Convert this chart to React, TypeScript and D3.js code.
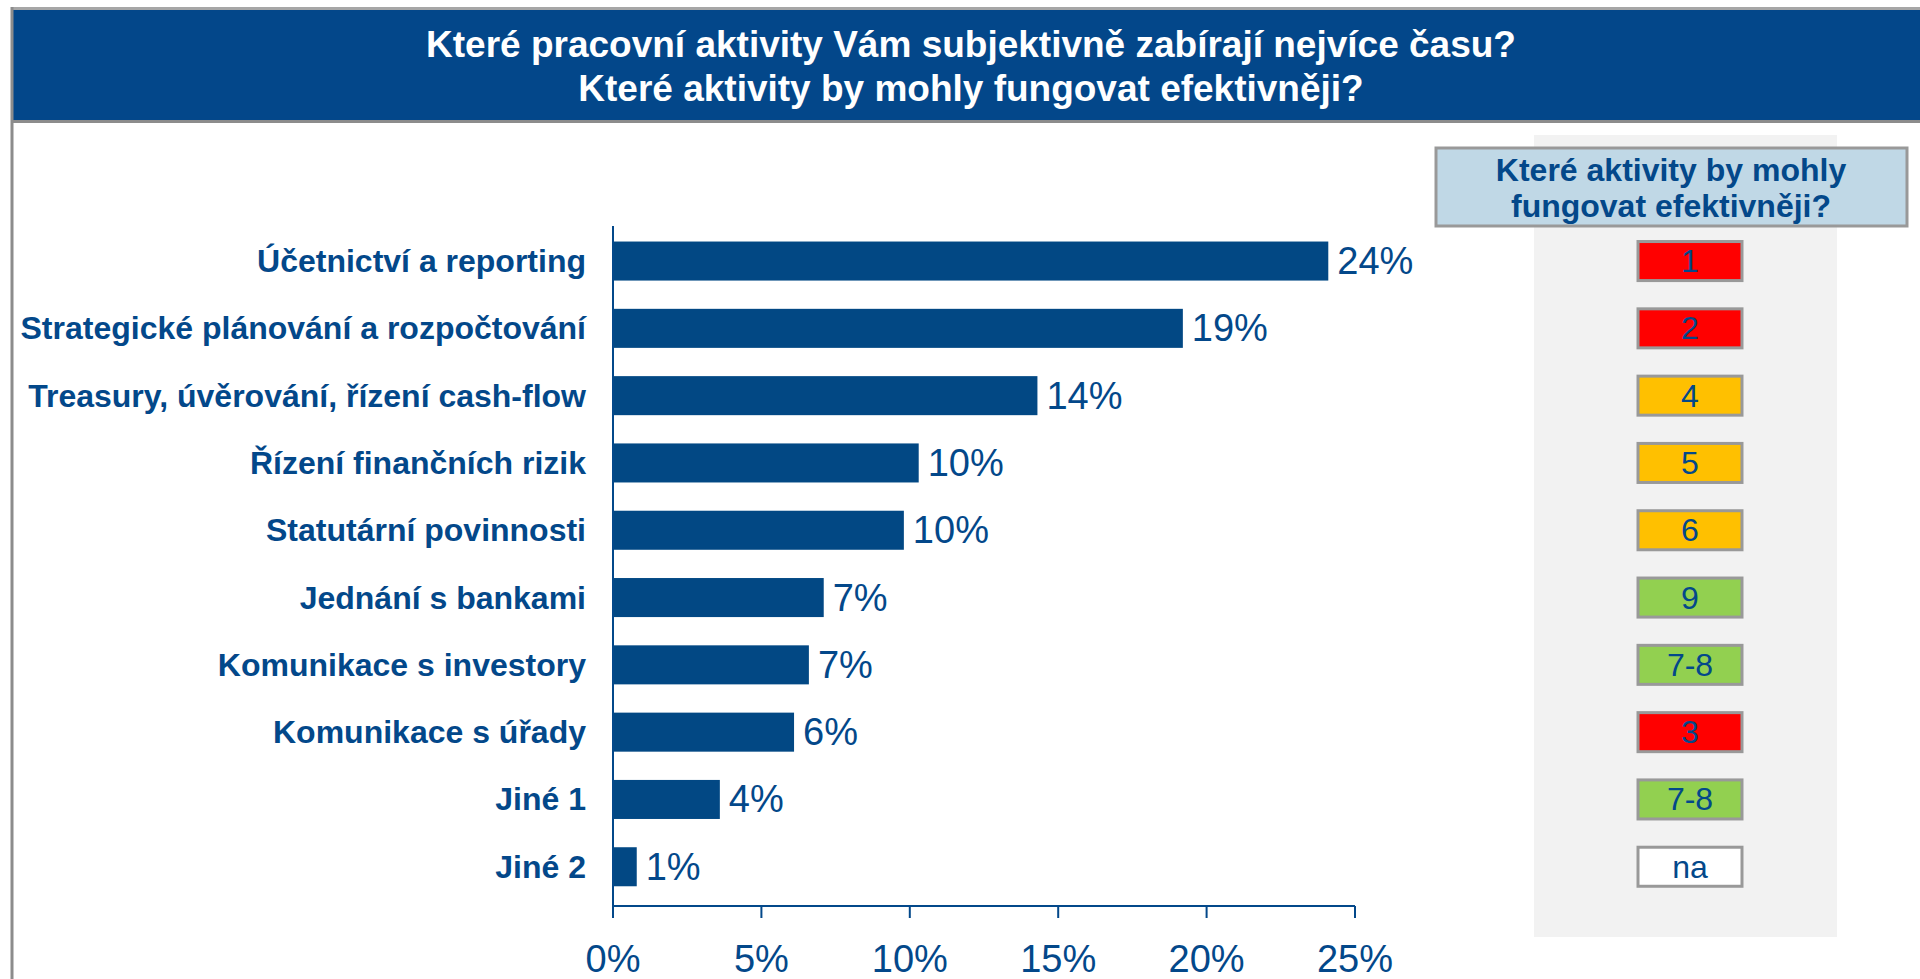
import React from 'react';
import * as d3 from "d3";

const categories = [
    "Účetnictví a reporting",
    "Strategické plánování a rozpočtování",
    "Treasury, úvěrování, řízení cash-flow",
    "Řízení finančních rizik",
    "Statutární povinnosti",
    "Jednání s bankami",
    "Komunikace s investory",
    "Komunikace s úřady",
    "Jiné 1",
    "Jiné 2"
];
const shares = [24.1, 19.2, 14.3, 10.3, 9.8, 7.1, 6.6, 6.1, 3.6, 0.8];
const ranks = ["1", "2", "4", "5", "6", "9", "7-8", "3", "7-8", "na"];
const rankLevels = ["high", "high", "mid", "mid", "mid", "low", "low", "high", "low", "none"];
const xTicks = [0, 5, 10, 15, 20, 25];
const titleLines = [
    "Které pracovní aktivity Vám subjektivně zabírají nejvíce času?",
    "Které aktivity by mohly fungovat efektivněji?"
];
const panelTitleLines = ["Které aktivity by mohly", "fungovat efektivněji?"];

export default function App() {
    const width = 1920;
    const height = 979;
    const blue = "#03488a";
    const font = "'Liberation Sans', Arial, sans-serif";
    const levelColor = {high: "#ff0000", mid: "#ffc000", low: "#92d050", none: "#ffffff"};

    const svgRef = React.useRef(null);

    React.useEffect(() => {
        let svg = d3.select(svgRef.current);
        svg.selectAll("*").remove();

        const x = d3.scaleLinear().domain([0, 25]).range([613, 1355]);
        const y = d3.scaleBand()
            .domain(categories)
            .range([227.4, 900.4])
            .paddingInner(0.42)
            .paddingOuter(0.21);

        //Header band.
        svg.append("rect").attr("x", 12).attr("y", 7).attr("width", width - 12).attr("height", 4).attr("fill", "#a6a6a6");
        svg.append("rect").attr("x", 12).attr("y", 10).attr("width", width - 12).attr("height", 111).attr("fill", "#03478a");
        svg.append("rect").attr("x", 12).attr("y", 120).attr("width", width - 12).attr("height", 3).attr("fill", "#8c8c8c");
        svg.append("line").attr("x1", 12).attr("x2", 12).attr("y1", 7).attr("y2", height)
            .attr("stroke", "#8c8c8c").attr("stroke-width", 3);

        svg.selectAll(".title")
            .data(titleLines)
            .enter()
            .append("text")
            .attr("x", 971)
            .attr("y", (d, i) => 57 + i * 44)
            .attr("text-anchor", "middle")
            .attr("font-family", font)
            .attr("font-weight", "bold")
            .attr("font-size", 37)
            .attr("fill", "#ffffff")
            .text(d => d);

        //Right panel.
        svg.append("rect").attr("x", 1534).attr("y", 135).attr("width", 303).attr("height", 802).attr("fill", "#f2f2f2");
        svg.append("rect").attr("x", 1436).attr("y", 148).attr("width", 471).attr("height", 78)
            .attr("fill", "#c0d8e6").attr("stroke", "#999999").attr("stroke-width", 3);
        svg.selectAll(".ptitle")
            .data(panelTitleLines)
            .enter()
            .append("text")
            .attr("x", 1671)
            .attr("y", (d, i) => 181 + i * 36)
            .attr("text-anchor", "middle")
            .attr("font-family", font)
            .attr("font-weight", "bold")
            .attr("font-size", 32)
            .attr("fill", blue)
            .text(d => d);

        const boxW = 104;
        svg.selectAll(".rankBox")
            .data(categories)
            .enter()
            .append("rect")
            .attr("x", 1638)
            .attr("y", d => y(d))
            .attr("width", boxW)
            .attr("height", y.bandwidth())
            .attr("fill", (d, i) => levelColor[rankLevels[i]])
            .attr("stroke", "#999999")
            .attr("stroke-width", 3);
        svg.selectAll(".rankText")
            .data(categories)
            .enter()
            .append("text")
            .attr("x", 1638 + boxW / 2)
            .attr("y", d => y(d) + y.bandwidth() / 2 + 11)
            .attr("text-anchor", "middle")
            .attr("font-family", font)
            .attr("font-size", 32)
            .attr("fill", blue)
            .text((d, i) => ranks[i]);

        //Bars.
        svg.selectAll(".bar")
            .data(categories)
            .enter()
            .append("rect")
            .attr("x", x(0))
            .attr("y", d => y(d))
            .attr("width", (d, i) => x(shares[i]) - x(0))
            .attr("height", y.bandwidth())
            .attr("fill", "#024884");

        svg.selectAll(".value")
            .data(categories)
            .enter()
            .append("text")
            .attr("x", (d, i) => x(shares[i]) + 9)
            .attr("y", d => y(d) + y.bandwidth() / 2 + 13)
            .attr("font-family", font)
            .attr("font-size", 38)
            .attr("fill", blue)
            .text((d, i) => Math.round(shares[i]) + "%");

        svg.selectAll(".cat")
            .data(categories)
            .enter()
            .append("text")
            .attr("x", 586)
            .attr("y", d => y(d) + y.bandwidth() / 2 + 11)
            .attr("text-anchor", "end")
            .attr("font-family", font)
            .attr("font-weight", "bold")
            .attr("font-size", 32)
            .attr("fill", blue)
            .text(d => d);

        //Axes.
        const axisY = 906;
        svg.append("line").attr("x1", x(0)).attr("x2", x(0)).attr("y1", 226).attr("y2", axisY)
            .attr("stroke", blue).attr("stroke-width", 2);
        svg.append("line").attr("x1", x(0)).attr("x2", x(25)).attr("y1", axisY).attr("y2", axisY)
            .attr("stroke", blue).attr("stroke-width", 2);
        svg.selectAll(".tick")
            .data(xTicks)
            .enter()
            .append("line")
            .attr("x1", d => x(d)).attr("x2", d => x(d))
            .attr("y1", axisY).attr("y2", axisY + 12)
            .attr("stroke", blue).attr("stroke-width", 2);
        svg.selectAll(".tickLabel")
            .data(xTicks)
            .enter()
            .append("text")
            .attr("x", d => x(d))
            .attr("y", 972)
            .attr("text-anchor", "middle")
            .attr("font-family", font)
            .attr("font-size", 38)
            .attr("fill", blue)
            .text(d => d + "%");
    }, []);

    return (
        <svg ref={svgRef} width={width} height={height}
             style={{position: "absolute", left: 0, top: 0, display: "block", background: "#ffffff"}}></svg>
    );
}
